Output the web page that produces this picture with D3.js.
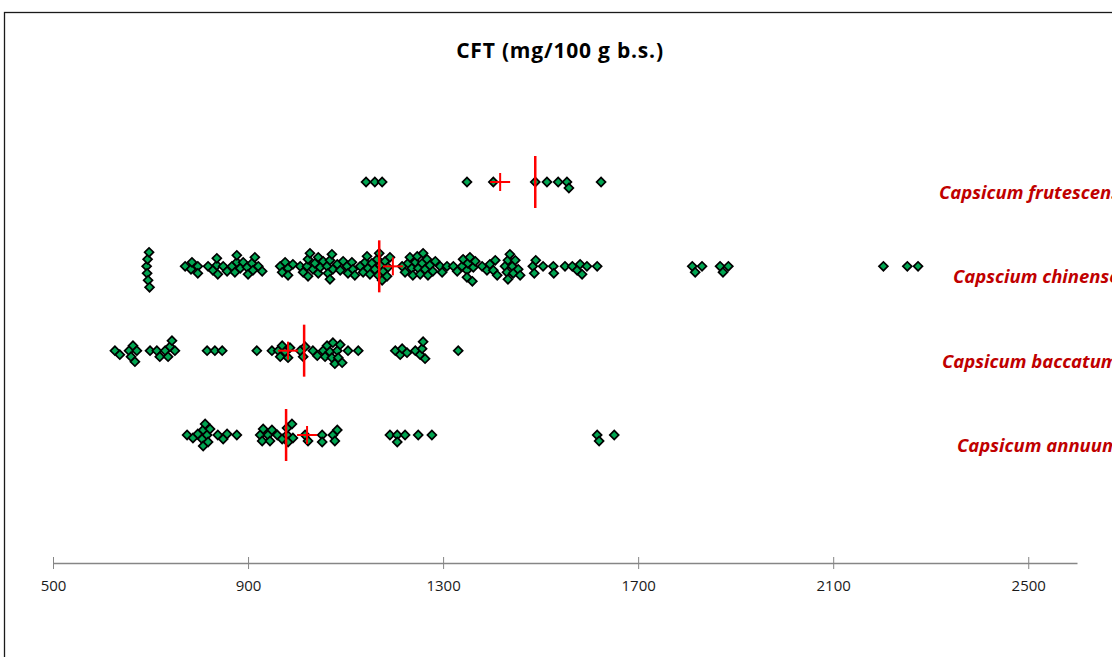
<!DOCTYPE html>
<html>
<head>
<meta charset="utf-8">
<script src="https://cdn.jsdelivr.net/npm/d3@7"></script>
<style>
  body { margin: 0; background: #fff; }
  svg { display: block; }
</style>
</head>
<body>
<div id="chart"></div>
<script>
// species rows, top to bottom
var species = ["frutescens", "chinense", "baccatum", "annuum"];
var speciesLabels = ["Capsicum frutescens", "Capscium chinense", "Capsicum baccatum", "Capsicum annuum"];
var labelStart = [939, 953, 942, 957];

// CFT values (mg/100 g b.s.)
var frutescens = [1142, 1160, 1175, 1349, 1403, 1489, 1513, 1536, 1554, 1558, 1624];
var chinense = [692, 693, 694, 695, 697, 698,
    771, 783, 785, 797, 797, 818, 828, 836, 838, 836, 849,
    857, 867, 873, 877, 877, 884, 890, 898, 900, 908, 910, 914, 921, 929,
    966, 970, 976, 982, 982, 992,
    1007, 1013, 1021, 1023, 1023, 1027, 1033, 1037, 1044, 1044, 1048, 1054, 1062, 1064, 1068, 1068, 1072, 1074,
    1083, 1089, 1095, 1103, 1105, 1113, 1115,
    1119, 1130, 1136, 1140, 1144, 1146, 1150, 1154, 1160, 1165, 1167, 1169, 1171, 1175, 1177, 1181, 1185, 1187, 1191,
    1216, 1222, 1228, 1232, 1236, 1238, 1243, 1247, 1249, 1253, 1257, 1259, 1263, 1267, 1269, 1273, 1279,
    1284, 1294, 1298, 1308,
    1321, 1329, 1339, 1341, 1349, 1349, 1351, 1355, 1360, 1362, 1366,
    1380, 1390, 1396, 1403, 1407, 1411,
    1427, 1431, 1433, 1433, 1437, 1442, 1444, 1448, 1454, 1458,
    1484, 1487, 1490, 1505, 1526, 1527,
    1550, 1565, 1575, 1581, 1585, 1595, 1616,
    1811, 1817, 1831, 1868, 1874, 1885, 2203, 2252, 2274];
var baccatum = [627, 637, 656, 660, 664, 668, 672,
    699, 713, 719, 730, 736, 740, 744, 750, 816, 832, 847, 918,
    949, 962, 966, 970, 976, 982, 986,
    1007, 1013, 1017, 1033, 1042, 1054, 1058, 1062, 1068, 1072, 1074, 1078, 1083, 1085, 1089, 1093, 1105, 1126,
    1202, 1212, 1216, 1226, 1243, 1253, 1257, 1259, 1263, 1331];
var annuum = [775, 787, 797, 806, 808, 812, 816, 808, 818, 822,
    838, 849, 857, 877,
    925, 929, 931, 941, 945, 949, 960, 970, 980, 980, 982, 990, 992,
    1017, 1023, 1052, 1052, 1074, 1078, 1083,
    1191, 1206, 1206, 1222, 1249, 1277, 1616, 1620, 1651];
var seriesValues = [frutescens, chinense, baccatum, annuum];

// summary marks
var meanValues = [1417, 1197, 982, 1021];
var medianValues = [1489, 1169, 1015, 978];

var xTicks = [500, 900, 1300, 1700, 2100, 2500];

var width = 1112, height = 657;

var svg = d3.select("#chart").append("svg")
    .attr("width", width)
    .attr("height", height);

svg.append("rect")
    .attr("x", 4.5).attr("y", 12.5)
    .attr("width", width + 20).attr("height", height + 20)
    .attr("fill", "#fff")
    .attr("stroke", "#1a1a1a")
    .attr("stroke-width", 1.3);

svg.append("text")
    .attr("x", 560).attr("y", 58)
    .attr("text-anchor", "middle")
    .attr("font-family", "Open Sans, sans-serif")
    .attr("font-weight", "bold")
    .attr("font-size", 21)
    .attr("letter-spacing", 0.8)
    .attr("fill", "#000")
    .text("CFT (mg/100 g b.s.)");

var x = d3.scaleLinear().domain([500, 2600]).range([53, 1077]);
var y = d3.scalePoint().domain(species).range([182, 435]);

// axis
var axis = svg.append("g")
    .attr("transform", "translate(0,563)")
    .call(d3.axisBottom(x).tickValues(xTicks).tickSizeOuter(0).tickFormat(d3.format("d")));
axis.select(".domain").attr("stroke", "#868686").attr("stroke-width", 1.5);
axis.selectAll(".tick line").attr("stroke", "#868686").attr("stroke-width", 1).attr("y1", -6).attr("y2", 6);
axis.selectAll(".tick text")
    .attr("y", 17)
    .attr("font-family", "Open Sans, sans-serif")
    .attr("font-size", 15)
    .attr("fill", "#1a1a1a");

// simple beeswarm: lift points off the centre line until they do not collide
function swarm(values, minDist)
{
    var sorted = values.slice().sort(d3.ascending);
    var placed = [];
    sorted.forEach(function(v) {
        var px = x(v);
        var off = 0;
        for (var k = 0; k < 200; k++) {
            var cand = (k % 2 === 1 ? 1 : -1) * Math.ceil(k / 2);
            var ok = placed.every(function(p) {
                var dx = p.px - px, dy = p.off - cand;
                return dx * dx + dy * dy >= minDist * minDist;
            });
            if (ok) { off = cand; break; }
        }
        placed.push({v: v, px: px, off: off});
    });
    return placed;
}

var diamond = d3.symbol().type(d3.symbolSquare).size(40);

species.forEach(function(s, i) {
    var cy = y(s);
    var pts = swarm(seriesValues[i], 6.2);

    var g = svg.append("g");

    g.selectAll(".pt")
        .data(pts)
        .enter().append("path")
        .attr("class", "pt")
        .attr("d", diamond)
        .attr("transform", function(d) { return "translate(" + d.px + "," + (cy + d.off) + ") rotate(45)"; })
        .attr("fill", "#00A651")
        .attr("stroke", "#000")
        .attr("stroke-width", 1.7);

    // median: tall line
    g.append("line")
        .attr("x1", x(medianValues[i])).attr("x2", x(medianValues[i]))
        .attr("y1", cy - 26).attr("y2", cy + 26)
        .attr("stroke", "#FF0000")
        .attr("stroke-width", 2.5);

    // mean: small cross
    g.append("line")
        .attr("x1", x(meanValues[i]) - 10).attr("x2", x(meanValues[i]) + 10)
        .attr("y1", cy).attr("y2", cy)
        .attr("stroke", "#FF0000")
        .attr("stroke-width", 2);
    g.append("line")
        .attr("x1", x(meanValues[i])).attr("x2", x(meanValues[i]))
        .attr("y1", cy - 9).attr("y2", cy + 9)
        .attr("stroke", "#FF0000")
        .attr("stroke-width", 2);

    svg.append("text")
        .attr("x", labelStart[i]).attr("y", cy + 17)
        .attr("font-family", "Open Sans, sans-serif")
        .attr("font-weight", "bold")
        .attr("font-style", "italic")
        .attr("font-size", 18.5)
        .attr("fill", "#C00000")
        .text(speciesLabels[i]);
});
</script>
</body>
</html>
